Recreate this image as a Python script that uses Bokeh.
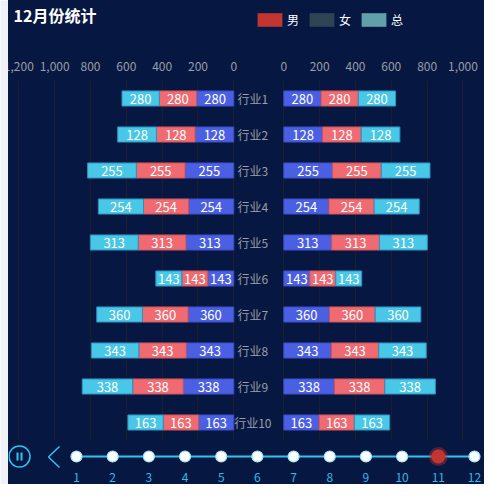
from bokeh.plotting import figure
from bokeh.models import Range1d, FactorRange, FixedTicker, ColumnDataSource, Legend, LegendItem
from bokeh.layouts import column, row
from bokeh.core.properties import value
from bokeh.embed import file_html
from bokeh.resources import INLINE

# ---------------- data ----------------
TITLE = "12月份统计"
industries = ["行业1", "行业2", "行业3", "行业4", "行业5",
              "行业6", "行业7", "行业8", "行业9", "行业10"]
value_labels = [280, 128, 255, 254, 313, 143, 360, 343, 338, 163]
# segment lengths as drawn (chart caught mid-animation)
bar_lengths = [208, 216, 272, 252, 267, 145, 255, 265, 282, 197]
series_names = ["男", "女", "总"]
legend_colors = ["#c23531", "#2f4554", "#61a0a8"]
bar_colors = ["#4b5fe3", "#ef6a71", "#48c7e6"]
bar_borders = ["#3a4cc2", "#c8545d", "#2f8fbf"]
tick_values = [0, 200, 400, 600, 800, 1000, 1200]
months = list(range(1, 13))
current_month = 11

# ---------------- style ----------------
BG = "#061841"
PAGE = "#f0f2f8"
GRID = "#1c1e2b"
AXIS_TXT = "#9b9ea6"
CYAN = "#2fc3ef"
FONT = "Noto Sans CJK SC"
STRIP = 8          # light strip on the left, as in the reference page
W = 476
H = 484
K = 0.17917        # px per data unit
G = 139.5          # half gap between the two panels (data units)
CENTER = 258.3 - STRIP
XS, XE = (0 - CENTER) / K, (W - CENTER) / K

common = dict(toolbar_location=None, output_backend="svg", min_border_left=0,
              min_border_right=0, background_fill_color=BG, border_fill_color=BG,
              outline_line_color=None)

# ---------------- left page strip ----------------
strip = figure(width=STRIP, height=H, x_axis_type=None, y_axis_type=None,
               toolbar_location=None, output_backend="svg", min_border=0,
               background_fill_color=PAGE, border_fill_color=PAGE,
               outline_line_color=None)
strip.grid.visible = False

# ---------------- header ----------------
HH = 32
header = figure(width=W, height=HH, x_range=Range1d(STRIP, STRIP + W),
                y_range=Range1d(0, HH), x_axis_type=None, y_axis_type=None,
                min_border_top=0, min_border_bottom=0, **common)
header.grid.visible = False
header.text(x=[13], y=[HH - 2], text=[TITLE], text_baseline="top", text_align="left",
            text_color="#ffffff", text_font_size="16px", text_font_style="bold",
            text_font=value(FONT))
items = []
for name, col in zip(series_names, legend_colors):
    # dummy glyph kept outside the visible range, only used for the legend swatch
    r = header.quad(left=[-20], right=[-10], top=[-10], bottom=[-20],
                    fill_color=col, line_color=None)
    items.append(LegendItem(label=name, renderers=[r]))
legend = Legend(items=items, orientation="horizontal", location=(246, 4),
                glyph_width=31, glyph_height=17, label_height=17, label_width=12,
                label_standoff=2, spacing=7, padding=0, margin=0,
                border_line_color=None, background_fill_alpha=0,
                label_text_color="#ffffff", label_text_font_size="12px",
                label_text_font=FONT, label_text_baseline="middle")
header.add_layout(legend)

# ---------------- main butterfly chart ----------------
p = figure(width=W, height=408, x_range=Range1d(XS, XE),
           y_range=FactorRange(factors=list(reversed(industries))),
           x_axis_location="above", y_axis_type=None,
           min_border_top=48, min_border_bottom=0, **common)

tick_pos = [-(G + t) for t in tick_values] + [G + t for t in tick_values]
tick_txt = [f"{t:,}" for t in tick_values] * 2
p.xaxis.ticker = FixedTicker(ticks=tick_pos, minor_ticks=[])
p.xaxis.major_label_overrides = {pos: txt for pos, txt in zip(tick_pos, tick_txt)}
p.xaxis.axis_line_color = None
p.xaxis.major_tick_line_color = None
p.xaxis.minor_tick_line_color = None
p.xaxis.major_tick_out = 0
p.xaxis.major_label_standoff = 10
p.xaxis.major_label_text_color = AXIS_TXT
p.xaxis.major_label_text_font_size = "12px"
p.xaxis.major_label_text_font = FONT
p.xgrid.grid_line_color = GRID
p.xgrid.grid_line_width = 1

for j, (fc, lc) in enumerate(zip(bar_colors, bar_borders)):
    for side in (-1, 1):
        inner = [side * (G + j * w) for w in bar_lengths]
        outer = [side * (G + (j + 1) * w) for w in bar_lengths]
        src = ColumnDataSource(dict(
            cat=industries,
            l=[min(a, b) for a, b in zip(inner, outer)],
            r=[max(a, b) for a, b in zip(inner, outer)],
            cx=[(a + b) / 2 for a, b in zip(inner, outer)],
            lab=[str(v) for v in value_labels],
        ))
        p.hbar(y="cat", left="l", right="r", height=0.42, fill_color=fc,
               line_color=lc, line_width=1, source=src)
        p.text(x="cx", y="cat", text="lab", source=src, text_align="center",
               text_baseline="middle", text_color="#ffffff", text_font_size="13px",
               text_font=value(FONT))

p.text(x=[-6 / K] * len(industries), y=industries, text=industries,
       text_align="center", text_baseline="middle", text_color=AXIS_TXT,
       text_font_size="12px", text_font=value(FONT))

# ---------------- timeline ----------------
STEP = 36.18
M1 = 76 - STRIP
TH = H - HH - 408
TX0 = 1 - M1 / STEP
TX1 = 1 + (W - M1) / STEP
tl = figure(width=W, height=TH, x_range=Range1d(TX0, TX1), y_range=Range1d(0, TH),
            x_axis_type=None, y_axis_type=None, min_border_top=0,
            min_border_bottom=0, **common)
tl.grid.visible = False
LY = TH - 16
tl.line(x=[months[0], months[-1]], y=[LY, LY], line_color=CYAN, line_width=2)
others = [m for m in months if m != current_month]
tl.scatter(x=others, y=[LY] * len(others), size=11, fill_color="#ffffff",
           line_color="#9be3f7", line_width=1.2)
tl.scatter(x=[current_month], y=[LY], size=19, fill_color="#c23531",
           fill_alpha=0.4, line_color=None)
tl.scatter(x=[current_month], y=[LY], size=14, fill_color="#c23531", line_color=None)
tl.text(x=months, y=[LY - 21] * len(months), text=[str(m) for m in months],
        text_align="center", text_baseline="middle", text_color="#33b8e6",
        text_font_size="12px", text_font=value(FONT))
# play/pause control and previous arrow
px_m = 1 / STEP
pause_x = 1 + (19 - 76) / STEP
tl.scatter(x=[pause_x], y=[LY], size=21, fill_color=None, line_color=CYAN, line_width=1.5)
tl.segment(x0=[pause_x - 2 * px_m, pause_x + 2 * px_m], y0=[LY - 4, LY - 4],
           x1=[pause_x - 2 * px_m, pause_x + 2 * px_m], y1=[LY + 4, LY + 4],
           line_color=CYAN, line_width=2)
prev_x = 1 + (48 - 76) / STEP
tl.line(x=[prev_x + 11 * px_m, prev_x, prev_x + 11 * px_m], y=[LY + 10, LY - 0.5, LY - 11],
        line_color=CYAN, line_width=1.5)

layout = row(strip, column(header, p, tl, styles={"background-color": BG}))
open("out.html", "w").write(file_html(layout, INLINE))
